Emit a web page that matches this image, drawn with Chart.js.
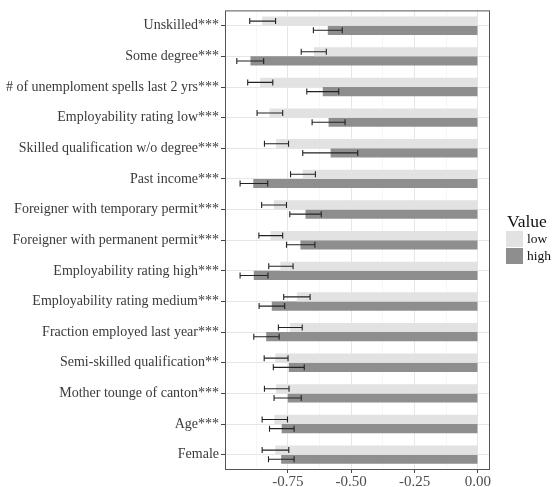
<!DOCTYPE html>
<html lang="en">
  <head>
    <meta charset="UTF-8" />
    <script src="https://cdn.jsdelivr.net/npm/chart.js@4.4.0/dist/chart.umd.min.js"></script>
    <title>coefficients</title>
    <style>
      body {
        margin: 0;
        padding: 0;
        background: white;
      }
      canvas {
        display: block;
      }
    </style>
  </head>
  <body>
    <canvas id="chart" width="552" height="487"></canvas>
    <script>
      const categories = [
        'Unskilled***',
        'Some degree***',
        '# of unemploment spells last 2 yrs***',
        'Employability rating low***',
        'Skilled qualification w/o degree***',
        'Past income***',
        'Foreigner with temporary permit***',
        'Foreigner with permanent permit***',
        'Employability rating high***',
        'Employability rating medium***',
        'Fraction employed last year***',
        'Semi-skilled qualification**',
        'Mother tounge of canton***',
        'Age***',
        'Female',
      ]
      const seriesNames = ['low', 'high']

      const lowValues = [-0.851, -0.647, -0.859, -0.822, -0.796, -0.691, -0.805, -0.818, -0.779, -0.714, -0.741, -0.799, -0.796, -0.803, -0.799]
      const lowLower = [-0.900, -0.697, -0.908, -0.871, -0.842, -0.739, -0.853, -0.864, -0.825, -0.766, -0.787, -0.843, -0.842, -0.851, -0.851]
      const lowUpper = [-0.798, -0.598, -0.809, -0.770, -0.747, -0.641, -0.755, -0.770, -0.729, -0.662, -0.693, -0.749, -0.745, -0.751, -0.746]

      const highValues = [-0.592, -0.897, -0.612, -0.589, -0.581, -0.886, -0.680, -0.700, -0.884, -0.813, -0.835, -0.746, -0.750, -0.774, -0.776]
      const highLower = [-0.649, -0.951, -0.675, -0.654, -0.691, -0.938, -0.742, -0.755, -0.938, -0.863, -0.884, -0.807, -0.804, -0.822, -0.826]
      const highUpper = [-0.535, -0.845, -0.549, -0.524, -0.474, -0.829, -0.618, -0.643, -0.828, -0.762, -0.784, -0.685, -0.697, -0.725, -0.725]

      const xTicks = [-0.875, -0.75, -0.625, -0.5, -0.375, -0.25, -0.125, 0]

      const isMajor = (v) => Math.abs(Math.round(v * 4) - v * 4) < 1e-6

      const errorBars = {
        id: 'errorBars',
        afterDatasetsDraw(chart) {
          const ctx = chart.ctx
          const xs = chart.scales.x
          ctx.save()
          ctx.strokeStyle = '#222222'
          ctx.lineWidth = 1.1
          chart.data.datasets.forEach((ds, i) => {
            const meta = chart.getDatasetMeta(i)
            meta.data.forEach((bar, j) => {
              const x1 = xs.getPixelForValue(ds.errLo[j])
              const x2 = xs.getPixelForValue(ds.errHi[j])
              const y = bar.y
              ctx.beginPath()
              ctx.moveTo(x1, y)
              ctx.lineTo(x2, y)
              ctx.moveTo(x1, y - 3)
              ctx.lineTo(x1, y + 3)
              ctx.moveTo(x2, y - 3)
              ctx.lineTo(x2, y + 3)
              ctx.stroke()
            })
          })
          ctx.restore()
        },
      }

      const panelFrame = {
        id: 'panelFrame',
        afterDraw(chart) {
          const { left, top, right, bottom } = chart.chartArea
          const ctx = chart.ctx
          ctx.save()
          ctx.strokeStyle = '#555555'
          ctx.lineWidth = 1
          ctx.strokeRect(left + 0.5, top + 0.5, right - left - 1, bottom - top - 1)
          ctx.restore()
        },
      }

      const sideLegend = {
        id: 'sideLegend',
        afterDraw(chart) {
          const ctx = chart.ctx
          const x0 = chart.chartArea.right + 16
          const y0 = 231
          ctx.save()
          ctx.fillStyle = '#111111'
          ctx.font = '17.5px "Liberation Serif"'
          ctx.textBaseline = 'alphabetic'
          ctx.fillText('Value', x0 + 1, y0 - 4)
          chart.data.datasets.forEach((ds, i) => {
            const y = y0 + i * 17
            ctx.fillStyle = ds.backgroundColor
            ctx.fillRect(x0, y, 17, 16)
            ctx.fillStyle = '#111111'
            ctx.font = '13.5px "Liberation Serif"'
            ctx.textBaseline = 'middle'
            ctx.fillText(seriesNames[i], x0 + 21, y + 8)
          })
          ctx.restore()
        },
      }

      const chart = new Chart(document.getElementById('chart'), {
        type: 'bar',
        data: {
          labels: categories,
          datasets: [
            {
              label: seriesNames[0],
              data: lowValues,
              errLo: lowLower,
              errHi: lowUpper,
              backgroundColor: '#e2e2e2',
            },
            {
              label: seriesNames[1],
              data: highValues,
              errLo: highLower,
              errHi: highUpper,
              backgroundColor: '#8e8e8e',
            },
          ],
        },
        options: {
          indexAxis: 'y',
          responsive: false,
          animation: false,
          layout: { padding: { top: 7, right: 62, left: 0, bottom: 0 } },
          datasets: {
            bar: { categoryPercentage: 0.6, barPercentage: 1.0 },
          },
          plugins: {
            legend: { display: false },
            tooltip: { enabled: false },
          },
          scales: {
            x: {
              type: 'linear',
              min: -0.9975,
              max: 0.0475,
              afterBuildTicks: (scale) => {
                scale.ticks = xTicks.map((v) => ({ value: v }))
              },
              afterFit: (scale) => {
                scale.height = 17
              },
              ticks: {
                autoSkip: false,
                maxRotation: 0,
                padding: 0,
                color: '#4d4d4d',
                font: { family: 'Liberation Serif', size: 15 },
                callback: (v) => (isMajor(v) ? v.toFixed(2) : ''),
              },
              grid: {
                color: (c) => (isMajor(c.tick.value) ? '#e6e6e6' : '#f2f2f2'),
                lineWidth: (c) => (isMajor(c.tick.value) ? 1 : 0.7),
                tickLength: 3,
                tickColor: (c) => (isMajor(c.tick.value) ? '#444444' : 'rgba(0,0,0,0)'),
              },
              border: { display: false },
            },
            y: {
              afterFit: (scale) => {
                scale.width = 225
              },
              ticks: {
                padding: 2,
                color: '#3a3a3a',
                font: { family: 'Liberation Serif', size: 14 },
              },
              grid: {
                offset: false,
                color: '#e6e6e6',
                tickLength: 4,
                tickColor: '#444444',
              },
              border: { display: false },
            },
          },
        },
        plugins: [errorBars, panelFrame, sideLegend],
      })
    </script>
  </body>
</html>
